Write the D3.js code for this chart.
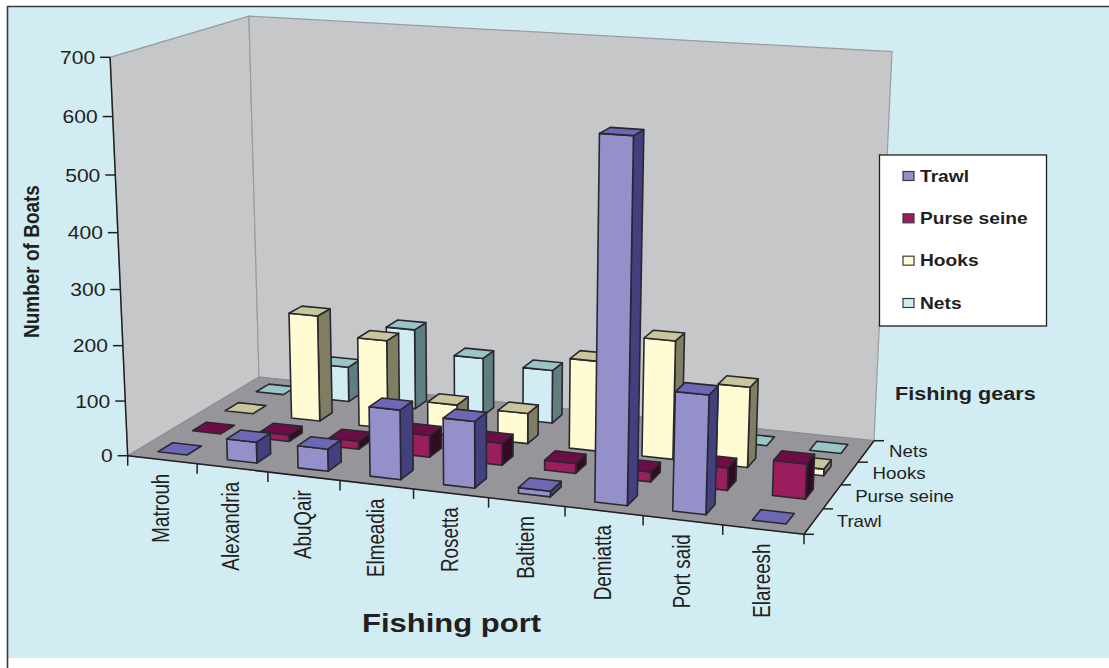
<!DOCTYPE html>
<html>
<head>
<meta charset="utf-8">
<script src="https://cdn.jsdelivr.net/npm/d3@7/dist/d3.min.js"></script>
<style>
html,body{margin:0;padding:0;background:#fff;overflow:hidden}
svg{display:block}
text{font-family:"Liberation Sans",Arial,sans-serif;fill:#231f20}
</style>
</head>
<body>
<svg id="chart" width="1109" height="668"></svg>
<script>
// Boats per fishing port and gear type
const ports = ["Matrouh","Alexandria","AbuQair","Elmeadia","Rosetta","Baltiem","Demiatta","Port said","Elareesh"];
const gears = ["Trawl","Purse seine","Hooks","Nets"];
const trawl = [0,38,40,124,118,10,620,205,0];
const purseSeine = [0,12,15,40,40,18,18,40,62];
const hooks = [0,199,165,58,56,165,215,145,12];
const nets = [0,67,152,110,100,0,0,0,0];
const valueTicks = [0,100,200,300,400,500,600,700];

const gearSeries = [trawl, purseSeine, hooks, nets];
const gearColors = [
  {front:"#9490c9", top:"#6d68b5", side:"#43407f"},
  {front:"#9a1d5d", top:"#6e0d45", side:"#320b22"},
  {front:"#fffbd3", top:"#c9c69b", side:"#7f7e62"},
  {front:"#d2ecf3", top:"#98c6c6", side:"#5f7e7e"}
];

const svg = d3.select("#chart");
const W = 1109, H = 668, TEXT_STRETCH = 1.17;

// Panel with its top and left rules
svg.append("rect").attr("x",8).attr("y",7).attr("width",W-8).attr("height",651).attr("fill","#d2ecf3");
svg.append("path").attr("d",`M7.5,${H}V6.5H${W}`).attr("fill","none").attr("stroke","#3a3a3c").attr("stroke-width",1.6);

// Perspective camera: floor corners and wall tops of the plot box, in page pixels
const floorFL=[127.7,455.7], floorFR=[804,534.3], floorBR=[874,440.7], floorBL=[259,377];
const wallTops=[{u:0,v:0,p:[110,58]},{u:0,v:1,p:[249,17]},{u:1,v:1,p:[892,50]}];

function buildCamera(){
  const [x0,y0]=floorFL,[x1,y1]=floorFR,[x2,y2]=floorBR,[x3,y3]=floorBL;
  const dx1=x1-x2,dx2=x3-x2,sx=x0-x1+x2-x3,dy1=y1-y2,dy2=y3-y2,sy=y0-y1+y2-y3;
  const den=dx1*dy2-dx2*dy1;
  const g=(sx*dy2-dx2*sy)/den,i=(dx1*sy-sx*dy1)/den;
  const a=x1-x0+g*x1,b=x3-x0+i*x3,d=x0,e=y1-y0+g*y1,f=y3-y0+i*y3,h0=y0;
  // Least squares for the height column (cx, cy, k)
  const N=[[0,0,0],[0,0,0],[0,0,0]],R=[0,0,0];
  const add=(row,rhs)=>{for(let r=0;r<3;r++){for(let c=0;c<3;c++)N[r][c]+=row[r]*row[c];R[r]+=row[r]*rhs;}};
  wallTops.forEach(t=>{
    const w=g*t.u+i*t.v+1,X=t.p[0],Y=t.p[1];
    add([1,0,-X],X*w-(a*t.u+b*t.v+d));
    add([0,1,-Y],Y*w-(e*t.u+f*t.v+h0));
  });
  for(let c=0;c<3;c++){
    let piv=c;for(let r=c+1;r<3;r++)if(Math.abs(N[r][c])>Math.abs(N[piv][c]))piv=r;
    [N[c],N[piv]]=[N[piv],N[c]];[R[c],R[piv]]=[R[piv],R[c]];
    for(let r=0;r<3;r++)if(r!==c){const m=N[r][c]/N[c][c];for(let k=0;k<3;k++)N[r][k]-=m*N[c][k];R[r]-=m*R[c];}
  }
  const cx=R[0]/N[0][0],cy=R[1]/N[1][1],k=R[2]/N[2][2];
  return (u,v,t)=>{const w=g*u+i*v+k*t+1;return[(a*u+b*v+cx*t+d)/w,(e*u+f*v+cy*t+h0)/w];};
}
const project=buildCamera();

// Scales over the unit box
const uScale=d3.scaleBand().domain(ports).range([0,1]).paddingInner(0.58).paddingOuter(0.29);
const vScale=d3.scaleBand().domain(gears).range([0,1]).paddingInner(0.58).paddingOuter(0.29);
const hScale=d3.scaleLinear().domain([0,700]).range([0,1]);
const line=d3.line();
const poly=pts=>line(pts)+"Z";

// Walls and floor
const box=svg.append("g");
box.append("path").attr("d",poly([project(0,0,0),project(0,1,0),project(0,1,1),project(0,0,1)]))
  .attr("fill","#c6c7c9").attr("stroke","#9c9c9e").attr("stroke-width",1.2);
box.append("path").attr("d",poly([project(0,1,0),project(1,1,0),project(1,1,1),project(0,1,1)]))
  .attr("fill","#c6c7c9").attr("stroke","#9c9c9e").attr("stroke-width",1.2);
box.append("path").attr("d",poly([project(0,0,0),project(1,0,0),project(1,1,0),project(0,1,0)]))
  .attr("fill","#96969a").attr("stroke","#8a8a8e").attr("stroke-width",1);

// Bars, painted back row first and left to right so nearer ones overlap
const barLayer=svg.append("g");
const edge={stroke:"#2a2730",width:1.6};
d3.range(gears.length-1,-1,-1).forEach(gi=>{
  const gear=gears[gi],col=gearColors[gi];
  const data=ports.map((p,pi)=>({port:p,value:gearSeries[gi][pi]}));
  const g=barLayer.append("g").attr("class","gear");
  const bars=g.selectAll("g").data(data).join("g");
  const corners=d=>{
    const u0=uScale(d.port),u1=u0+uScale.bandwidth(),v0=vScale(gear),v1=v0+vScale.bandwidth(),t=hScale(d.value);
    return {u0,u1,v0,v1,t};
  };
  const face=(sel,color,fn)=>sel.append("path").attr("d",d=>poly(fn(corners(d))))
    .attr("fill",color).attr("stroke",edge.stroke).attr("stroke-width",edge.width).attr("stroke-linejoin","round");
  face(bars.filter(d=>d.value>0),col.side,c=>[project(c.u1,c.v0,0),project(c.u1,c.v1,0),project(c.u1,c.v1,c.t),project(c.u1,c.v0,c.t)]);
  face(bars.filter(d=>d.value>0),col.front,c=>[project(c.u0,c.v0,0),project(c.u1,c.v0,0),project(c.u1,c.v0,c.t),project(c.u0,c.v0,c.t)]);
  face(bars,col.top,c=>[project(c.u0,c.v0,c.t),project(c.u1,c.v0,c.t),project(c.u1,c.v1,c.t),project(c.u0,c.v1,c.t)]);
});

// Text drawn with the wide proportions used throughout the figure
function label(x,y,str,opts={}){
  const rot=opts.rotate?` rotate(${opts.rotate})`:"";
  svg.append("text")
    .attr("transform",`translate(${x},${y}) scale(${opts.stretch||TEXT_STRETCH},1)${rot}`)
    .attr("font-size",opts.size||16)
    .attr("font-weight",opts.bold?"bold":"normal")
    .attr("text-anchor",opts.anchor||"start")
    .text(str);
}
const axisStroke="#231f20";
const axes=svg.append("g").attr("fill","none").attr("stroke",axisStroke).attr("stroke-width",1.5);

// Value axis on the front-left edge
axes.append("path").attr("d",line([project(0,0,0),project(0,0,1)]));
valueTicks.forEach(t=>{
  const p=project(0,0,hScale(t));
  axes.append("path").attr("d",line([[p[0]-10,p[1]],p]));
  label(p[0]-15,p[1]+6.5,String(t),{size:18,anchor:"end"});
});

// Port axis on the front edge
axes.append("path").attr("d",line([project(0,0,0),project(1,0,0)]));
d3.range(ports.length+1).forEach(i=>{
  const p=project(i/ports.length,0,0);
  axes.append("path").attr("d",line([p,[p[0],p[1]+10]]));
});
ports.forEach(name=>{
  const uc=uScale(name)+uScale.bandwidth()/2,p=project(uc,0,0);
  label(p[0]+7,p[1]+14,name,{size:18.8,anchor:"end",rotate:-90,stretch:1.25});
});

// Gear axis on the right edge
axes.append("path").attr("d",line([project(1,0,0),project(1,1,0)]));
d3.range(gears.length+1).forEach(i=>{
  const p=project(1,i/gears.length,0);
  axes.append("path").attr("d",line([p,[p[0]+10,p[1]]]));
});
gears.forEach(name=>{
  const vc=vScale(name)+vScale.bandwidth()/2,p=project(1,vc,0);
  label(p[0]+23,p[1]+5.5,name,{size:16});
});

// Axis titles
label(39,338,"Number of Boats",{size:19,bold:true,rotate:-90});
label(362,632,"Fishing port",{size:26.5,bold:true});
label(895,400,"Fishing gears",{size:18.5,bold:true});

// Legend
svg.append("rect").attr("x",879.5).attr("y",155).attr("width",167).attr("height",171)
  .attr("fill","#fff").attr("stroke","#231f20").attr("stroke-width",1.3);
const legendY=d3.scalePoint().domain(gears).range([176,303]);
gears.forEach((name,i)=>{
  const y=legendY(name);
  svg.append("rect").attr("x",903).attr("y",y-4.5).attr("width",11).attr("height",9)
    .attr("fill",gearColors[i].front).attr("stroke","#3a3a3c").attr("stroke-width",1.2);
  label(920,y+5.5,name,{size:16.4,bold:true});
});
</script>
</body>
</html>
